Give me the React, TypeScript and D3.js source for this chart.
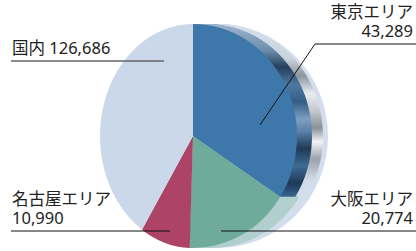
import { useEffect, useRef } from 'react'
import * as d3 from 'd3'

// data
const areas = ['東京エリア', '大阪エリア', '名古屋エリア', 'その他']
const values = [43289, 20774, 10990, 51633]
const totalLabel = '国内 126,686'
const valueLabels = ['43,289', '20,774', '10,990']
const colors = ['#3e77a9', '#6eab9b', '#ad4366', '#cbd8ea']

const App = () => {
  const ref = useRef<SVGSVGElement | null>(null)

  useEffect(() => {
    const svg = d3.select(ref.current)
    svg.selectAll('*').remove()

    const cx = 193
    const cy = 136
    const ry = 112
    const rxRight = 104
    const rxLeft = 93

    const pie = d3.pie<number>().sort(null).startAngle(0).endAngle(2 * Math.PI)
    const arcs = pie(values)
    const arc = d3.arc<d3.PieArcDatum<number>>().innerRadius(0).outerRadius(ry)

    const defs = svg.append('defs')
    const wallGrad = defs.append('linearGradient')
      .attr('id', 'wall').attr('x1', 0).attr('y1', 0).attr('x2', 0).attr('y2', 1)
    const wallStops: [number, string][] = [
      [0, '#9fb4cc'], [0.15, '#6f8fb0'], [0.25, '#243f5c'], [0.35, '#4f79a3'],
      [0.45, '#345d86'], [0.55, '#7f9fc0'], [0.62, '#5a82aa'], [0.72, '#1f3955'],
      [0.82, '#3f6a95'], [0.92, '#1d3a58'], [1, '#3a6690'],
    ]
    wallStops.forEach(([o, c]) => wallGrad.append('stop').attr('offset', o).attr('stop-color', c))

    const rimGrad = defs.append('linearGradient')
      .attr('id', 'rim').attr('x1', 0).attr('y1', 0).attr('x2', 0).attr('y2', 1)
    const rimStops: [number, string][] = [
      [0, '#d6e0ec'], [0.2, '#c9d2dc'], [0.3, '#8c949c'], [0.4, '#e8ecf0'],
      [0.5, '#c4cad0'], [0.6, '#8a9096'], [0.68, '#f2f4f6'], [0.78, '#9aa2aa'],
      [0.9, '#d0dae6'], [1, '#d6e0ec'],
    ]
    rimStops.forEach(([o, c]) => rimGrad.append('stop').attr('offset', o).attr('stop-color', c))

    // back face of the disc
    svg.append('ellipse')
      .attr('cx', 218).attr('cy', cy).attr('rx', 110).attr('ry', ry)
      .attr('fill', '#d3deec')

    const tokyo = arcs[0]
    const osaka = arcs[1]
    const g = svg.append('g')

    // light rim behind the Tokyo wall
    d3.range(14, 27).forEach(dx => {
      g.append('path')
        .attr('transform', `translate(${cx + dx},${cy}) scale(${rxRight / ry},1)`)
        .attr('d', arc(tokyo))
        .attr('fill', 'url(#rim)')
    })
    // Osaka side, faint
    d3.range(1, 20).forEach(dx => {
      g.append('path')
        .attr('transform', `translate(${cx + dx},${cy}) scale(${rxRight / ry},1)`)
        .attr('d', arc(osaka))
        .attr('fill', '#b2cfcf')
    })
    // dark wall of the Tokyo slice
    d3.range(1, 16).forEach(dx => {
      g.append('path')
        .attr('transform', `translate(${cx + dx},${cy}) scale(${rxRight / ry},1)`)
        .attr('d', arc(tokyo))
        .attr('fill', 'url(#wall)')
    })

    // front faces
    svg.append('g').selectAll('path')
      .data(arcs)
      .enter().append('path')
      .attr('transform', (d, i) => `translate(${cx},${cy}) scale(${(i < 2 ? rxRight : rxLeft) / ry},1)`)
      .attr('d', d => arc(d))
      .attr('fill', (d, i) => colors[i])

    // labels
    const font = "'Noto Sans', 'Noto Sans CJK JP', sans-serif"
    const label = (x: number, y: number, lines: string[], anchor: string) => {
      const t = svg.append('text')
        .attr('x', x).attr('y', y)
        .attr('text-anchor', anchor)
        .attr('font-family', font)
        .attr('font-size', 16.5)
        .attr('fill', '#222')
      lines.forEach((s, i) => {
        t.append('tspan').attr('x', x).attr('dy', i === 0 ? 0 : 19).text(s)
      })
    }

    label(12, 54, [totalLabel], 'start')
    svg.append('line')
      .attr('x1', 11).attr('x2', 164).attr('y1', 61).attr('y2', 61)
      .attr('stroke', '#666').attr('stroke-width', 1.5)

    label(413, 18, [areas[0], valueLabels[0]], 'end')
    svg.append('polyline')
      .attr('points', '416,44 315,44 260,125')
      .attr('fill', 'none').attr('stroke', '#111').attr('stroke-width', 1)

    label(413, 205, [areas[1], valueLabels[1]], 'end')
    svg.append('line')
      .attr('x1', 221).attr('x2', 416).attr('y1', 231).attr('y2', 231)
      .attr('stroke', '#111').attr('stroke-width', 1)

    label(12, 205, [areas[2], valueLabels[2]], 'start')
    svg.append('line')
      .attr('x1', 11).attr('x2', 170).attr('y1', 231).attr('y2', 231)
      .attr('stroke', '#111').attr('stroke-width', 1)
  }, [])

  return (
    <svg ref={ref} width={416} height={251}
      style={{ position: 'absolute', left: 0, top: 0, display: 'block' }} />
  )
}

export default App
